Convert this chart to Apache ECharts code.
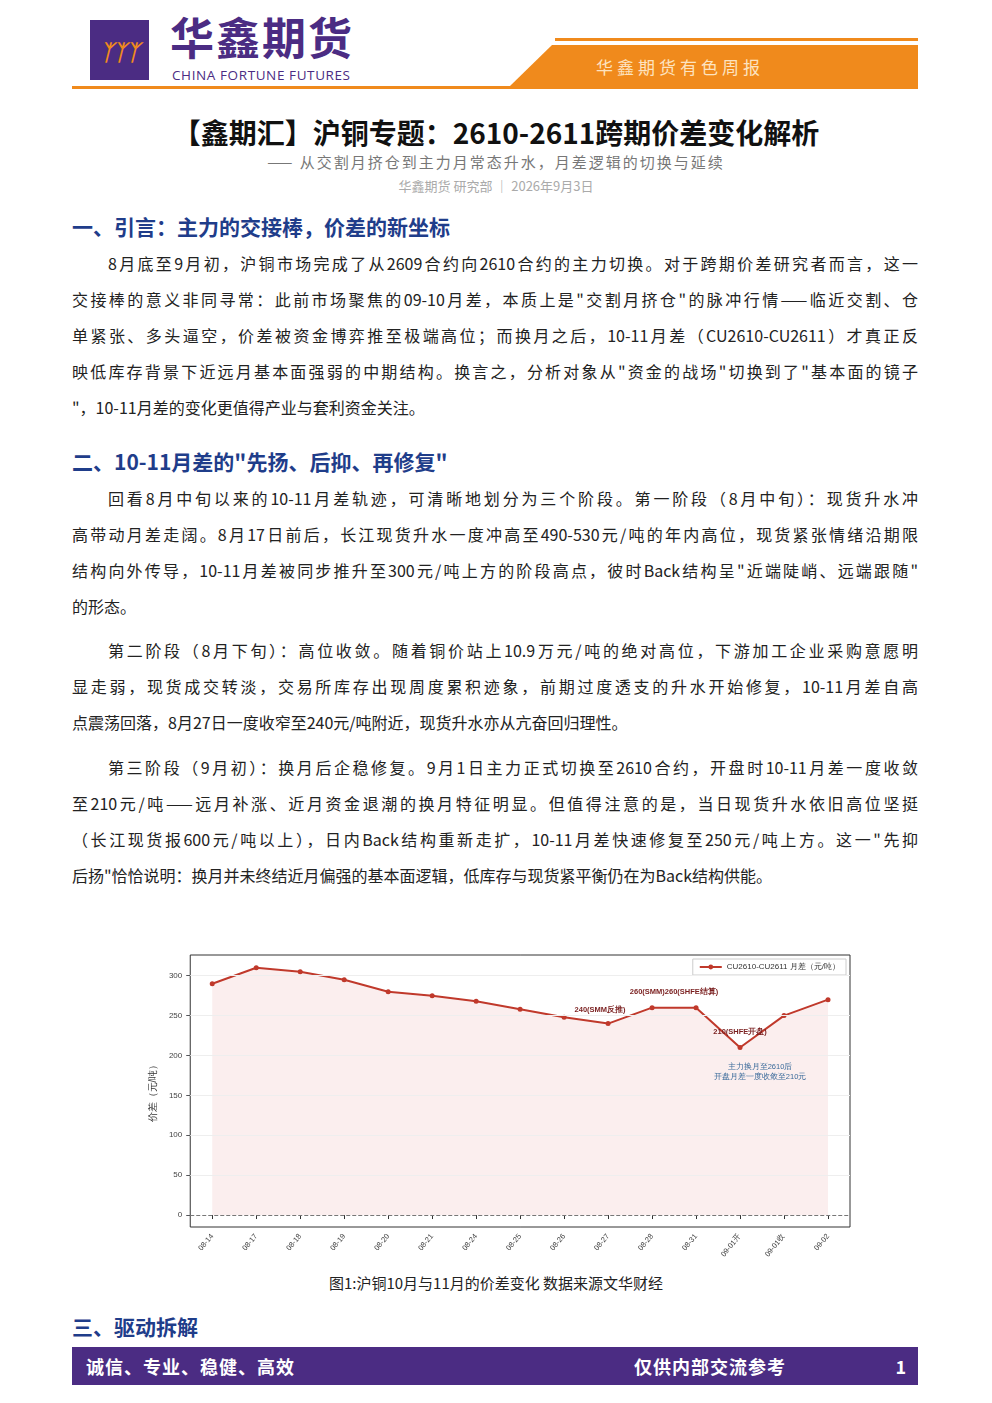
<!DOCTYPE html>
<html><head><meta charset="utf-8">
<script src="https://cdn.jsdelivr.net/npm/echarts@6/dist/echarts.min.js"></script>
<style>
body{margin:0;width:992px;height:1403px;position:relative;background:#fff;font-family:"Noto Sans CJK SC","Noto Sans",sans-serif;color:#222;overflow:hidden}
.a{position:absolute}
.p{left:72px;width:846px;font-size:16px;line-height:36px}
.p div{text-align:justify;text-align-last:justify;white-space:nowrap;overflow:visible}
.p div.l{text-align-last:left}
.h{left:72px;font-size:21px;font-weight:bold;color:#1f3d8a}
</style></head><body>
<div class="a" style="left:90px;top:20px;width:59px;height:60px;background:#4b2c83;color:#f08a1c;font-size:22px;font-weight:bold;text-align:center;line-height:60px;font-style:italic">ᛉᛉᛉ</div>
<div class="a" style="left:170px;top:10px;font-size:44px;font-weight:bold;color:#4b2c83;letter-spacing:2px;line-height:52px">华鑫期货</div>
<div class="a" style="left:172px;top:66px;font-size:13.5px;color:#4b2c83;letter-spacing:0.6px;font-family:'Open Sans';line-height:18px">CHINA FORTUNE FUTURES</div>
<div class="a" style="left:555px;top:38px;width:363px;height:3px;background:#f08a1c"></div>
<div class="a" style="left:510px;top:45px;width:408px;height:41px;background:#f08a1c;clip-path:polygon(42px 0,100% 0,100% 100%,0 100%)"></div>
<div class="a" style="left:72px;top:86px;width:846px;height:3px;background:#f08a1c"></div>
<div class="a" style="left:596px;top:54px;font-size:17px;color:#fde3c0;letter-spacing:4px">华鑫期货有色周报</div>

<div class="a" style="left:0;width:992px;top:112px;text-align:center;font-size:28px;font-weight:bold;color:#111">【鑫期汇】沪铜专题：2610-2611跨期价差变化解析</div>
<div class="a" style="left:0;width:992px;top:151px;text-align:center;font-size:15px;color:#777;letter-spacing:2px">—— 从交割月挤仓到主力月常态升水，月差逻辑的切换与延续</div>
<div class="a" style="left:0;width:992px;top:176px;text-align:center;font-size:13px;color:#aaa">华鑫期货 研究部 ｜ 2026年9月3日</div>

<div class="a h" style="top:211px">一、引言：主力的交接棒，价差的新坐标</div>
<div class="a p" style="top:245px">
<div style="padding-left:36px">8月底至9月初，沪铜市场完成了从2609合约向2610合约的主力切换。对于跨期价差研究者而言，这一</div>
<div>交接棒的意义非同寻常：此前市场聚焦的09-10月差，本质上是"交割月挤仓"的脉冲行情——临近交割、仓</div>
<div>单紧张、多头逼空，价差被资金博弈推至极端高位；而换月之后，10-11月差（CU2610-CU2611）才真正反</div>
<div>映低库存背景下近远月基本面强弱的中期结构。换言之，分析对象从"资金的战场"切换到了"基本面的镜子</div>
<div class="l">"，10-11月差的变化更值得产业与套利资金关注。</div>
</div>

<div class="a h" style="top:446px">二、10-11月差的"先扬、后抑、再修复"</div>
<div class="a p" style="top:480px">
<div style="padding-left:36px">回看8月中旬以来的10-11月差轨迹，可清晰地划分为三个阶段。第一阶段（8月中旬）：现货升水冲</div>
<div>高带动月差走阔。8月17日前后，长江现货升水一度冲高至490-530元/吨的年内高位，现货紧张情绪沿期限</div>
<div>结构向外传导，10-11月差被同步推升至300元/吨上方的阶段高点，彼时Back结构呈"近端陡峭、远端跟随"</div>
<div class="l">的形态。</div>
</div>
<div class="a p" style="top:632px">
<div style="padding-left:36px">第二阶段（8月下旬）：高位收敛。随着铜价站上10.9万元/吨的绝对高位，下游加工企业采购意愿明</div>
<div>显走弱，现货成交转淡，交易所库存出现周度累积迹象，前期过度透支的升水开始修复，10-11月差自高</div>
<div class="l">点震荡回落，8月27日一度收窄至240元/吨附近，现货升水亦从亢奋回归理性。</div>
</div>
<div class="a p" style="top:749px">
<div style="padding-left:36px">第三阶段（9月初）：换月后企稳修复。9月1日主力正式切换至2610合约，开盘时10-11月差一度收敛</div>
<div>至210元/吨——远月补涨、近月资金退潮的换月特征明显。但值得注意的是，当日现货升水依旧高位坚挺</div>
<div>（长江现货报600元/吨以上），日内Back结构重新走扩，10-11月差快速修复至250元/吨上方。这一"先抑</div>
<div class="l">后扬"恰恰说明：换月并未终结近月偏强的基本面逻辑，低库存与现货紧平衡仍在为Back结构供能。</div>
</div>

<div id="c" class="a" style="left:140px;top:950px;width:720px;height:320px"></div>
<div class="a" style="left:0;width:992px;top:1272px;text-align:center;font-size:15px;color:#222">图1:沪铜10月与11月的价差变化 数据来源文华财经</div>
<div class="a h" style="top:1311px">三、驱动拆解</div>
<div class="a" style="left:72px;top:1347px;width:846px;height:38px;background:#4b2c83;color:#fff;font-weight:bold;font-size:18px;line-height:38px">
<span style="position:absolute;left:14px;letter-spacing:1px">诚信、专业、稳健、高效</span>
<span style="position:absolute;left:562px;letter-spacing:1px">仅供内部交流参考</span>
<span style="position:absolute;right:12px">1</span></div>

<script>
const categories=['08-14','08-17','08-18','08-19','08-20','08-21','08-24','08-25','08-26','08-27','08-28','08-31','09-01开','09-01收','09-02'];
const spread=[290,310,305,295,280,275,268,258,248,240,260,260,210,250,270];
const yTicks=[0,50,100,150,200,250,300];
const notes={9:'240(SMM反推)',10:'260(SMM)260(SHFE结算)',12:'210(SHFE开盘)'};
const red='#c0392b';
const chart=echarts.init(document.getElementById('c'));
chart.setOption({
 animation:false,
 grid:{left:47,right:10,top:5,bottom:43,show:true,borderColor:'#333',borderWidth:1},
 legend:{top:9,right:14,itemWidth:22,itemHeight:6,textStyle:{fontSize:8,color:'#333'},borderColor:'#ccc',borderWidth:1,padding:[4,6],data:['CU2610-CU2611 月差（元/吨）']},
 xAxis:{type:'category',data:categories,boundaryGap:true,axisLine:{show:false},axisTick:{show:true,alignWithLabel:true,length:4,lineStyle:{color:'#333'}},axisLabel:{rotate:50,fontSize:7.5,color:'#444',interval:0,margin:8}},
 yAxis:{type:'value',min:-15,max:326,name:'价差（元/吨）',nameLocation:'middle',nameGap:30,nameTextStyle:{fontSize:10,color:'#333'},
   axisLine:{show:false},splitLine:{show:false},axisTick:{show:true,length:4,customValues:yTicks},axisLabel:{fontSize:8,color:'#444',customValues:yTicks}},
 series:[{name:'CU2610-CU2611 月差（元/吨）',type:'line',data:spread.map((v,i)=>{
   const d={value:v};
   if(notes[i]){d.label={show:true,formatter:notes[i],position:'top',fontSize:7.5,fontWeight:'bold',color:'#7a1f1f',offset:i==9?[-8,-2]:i==10?[22,-4]:[0,-4]};}
   return d;}),
   color:red,lineStyle:{color:red,width:2},symbol:'circle',symbolSize:5,itemStyle:{color:red},
   areaStyle:{color:'rgba(220,90,90,0.15)'},
   markLine:{silent:true,symbol:'none',label:{show:false},data:yTicks.map(v=>({yAxis:v,lineStyle:{color:v===0?'#777':'#eee',type:v===0?'dashed':'solid',width:1}}))},
   markPoint:{symbol:'circle',symbolSize:1,itemStyle:{color:'rgba(0,0,0,0)'},silent:true,data:[{coord:[12,210],label:{show:true,position:'inside',formatter:'主力换月至2610后\n开盘月差一度收敛至210元',fontSize:7.5,color:'#3a6a9a',lineHeight:10,offset:[20,24],align:'center'}}]}
 }]
});
</script>
</body></html>
